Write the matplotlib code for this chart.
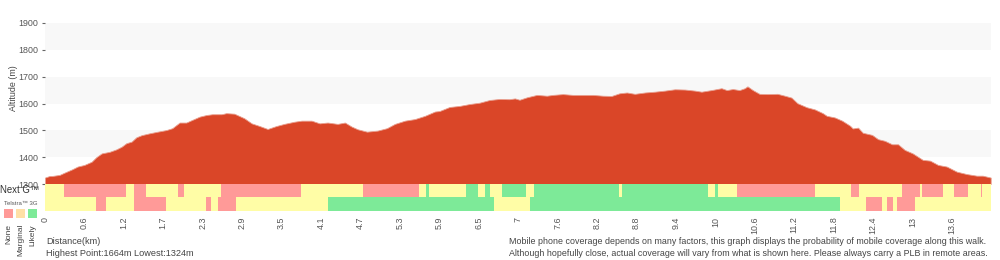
import matplotlib.pyplot as plt
from matplotlib.patches import Rectangle

plt.rcParams['font.family'] = ['Liberation Sans', 'DejaVu Sans']

# elevation profile: distance (km) and altitude (m)
dist = [0.00, 0.07, 0.11, 0.22, 0.29, 0.41, 0.49, 0.59, 0.70, 0.77,
        0.85, 0.97, 1.07, 1.15, 1.22, 1.30, 1.37, 1.45, 1.57, 1.69,
        1.82, 1.91, 2.02, 2.12, 2.21, 2.32, 2.42, 2.51, 2.65, 2.72,
        2.84, 2.99, 3.10, 3.22, 3.34, 3.47, 3.59, 3.74, 3.85, 4.00,
        4.12, 4.24, 4.39, 4.50, 4.60, 4.69, 4.83, 4.99, 5.13, 5.25,
        5.40, 5.55, 5.70, 5.85, 5.92, 6.07, 6.22, 6.37, 6.52, 6.67,
        6.82, 6.97, 7.05, 7.12, 7.23, 7.38, 7.53, 7.62, 7.77, 7.92,
        8.07, 8.22, 8.37, 8.50, 8.62, 8.73, 8.85, 9.00, 9.15, 9.30,
        9.45, 9.60, 9.75, 9.85, 10.00, 10.15, 10.23, 10.32, 10.42, 10.50,
        10.54, 10.62, 10.72, 10.84, 10.99, 11.10, 11.20, 11.29, 11.43, 11.55,
        11.67, 11.73, 11.85, 11.96, 12.08, 12.12, 12.20, 12.27, 12.41, 12.50,
        12.60, 12.71, 12.80, 12.90, 13.02, 13.17, 13.28, 13.40, 13.53, 13.68,
        13.83, 13.98, 14.07, 14.19]
elev = [1324, 1330, 1330, 1334, 1342, 1355, 1365, 1371, 1383, 1400,
        1414, 1420, 1429, 1439, 1452, 1458, 1474, 1482, 1489, 1495,
        1501, 1508, 1529, 1529, 1539, 1551, 1557, 1560, 1560, 1564,
        1562, 1545, 1526, 1516, 1505, 1516, 1524, 1532, 1536, 1536,
        1526, 1529, 1524, 1529, 1514, 1504, 1495, 1499, 1508, 1524,
        1536, 1542, 1554, 1570, 1572, 1587, 1591, 1598, 1603, 1613,
        1617, 1616, 1619, 1614, 1623, 1632, 1629, 1632, 1635, 1632,
        1632, 1632, 1629, 1628, 1638, 1641, 1636, 1641, 1644, 1648,
        1653, 1652, 1648, 1644, 1650, 1657, 1650, 1654, 1650, 1657,
        1664, 1650, 1636, 1635, 1636, 1629, 1622, 1601, 1586, 1578,
        1564, 1554, 1548, 1536, 1517, 1507, 1510, 1491, 1483, 1467,
        1461, 1448, 1448, 1427, 1414, 1390, 1387, 1371, 1365, 1346,
        1337, 1331, 1331, 1324]
total_km = 14.19

tick_labels = ['0', '0.6', '1.2', '1.7', '2.3', '2.9', '3.5', '4.1', '4.7', '5.3',
               '5.9', '6.5', '7', '7.6', '8.2', '8.8', '9.4', '10', '10.6', '11.2',
               '11.8', '12.4', '13', '13.6']
tick_step = 0.5917

# coverage: km where each segment starts, and its state
nextg_start = [0.00, 0.29, 1.22, 1.34, 1.52, 1.99, 2.09, 2.64, 3.84, 4.77,
               5.61, 5.72, 5.76, 6.32, 6.49, 6.60, 6.67, 6.86, 7.21, 7.33,
               8.62, 8.66, 9.95, 10.05, 10.10, 10.39, 11.55, 12.09, 12.21, 12.86,
               13.13, 13.16, 13.48, 13.64, 13.85, 14.04, 14.06]
nextg_state = ['marginal', 'none', 'marginal', 'none', 'marginal', 'none', 'marginal', 'none', 'marginal', 'none',
               'marginal', 'likely', 'marginal', 'likely', 'marginal', 'likely', 'marginal', 'likely', 'marginal', 'likely',
               'marginal', 'likely', 'marginal', 'likely', 'marginal', 'none', 'marginal', 'none', 'marginal', 'none',
               'marginal', 'none', 'marginal', 'none', 'marginal', 'none', 'marginal']
g3_start = [0.00, 0.76, 0.91, 1.34, 1.81, 2.42, 2.49, 2.59, 2.87, 4.24,
            6.73, 7.27, 11.93, 12.32, 12.56, 12.63, 12.73, 12.78, 13.05]
g3_state = ['marginal', 'none', 'marginal', 'none', 'marginal', 'none', 'marginal', 'none', 'marginal', 'likely',
            'marginal', 'likely', 'marginal', 'none', 'marginal', 'none', 'marginal', 'none', 'marginal']

cov_colors = {'none': '#FF9A98', 'marginal': '#FFFDA6', 'likely': '#7DEA98'}
legend_names = ['None', 'Marginal', 'Likely']
legend_colors = ['#FF9A98', '#FFE0A6', '#7DEA98']

W, H = 1000, 260
def fx(px):
    return px / W
def fy(py):
    return 1 - py / H

fig = plt.figure(figsize=(10, 2.6), dpi=100)

# altitude profile
ax = fig.add_axes([fx(45), fy(184), fx(990.7) - fx(45), (184 - 23) / H])
for lo in [1400, 1600, 1800]:
    ax.axhspan(lo, lo + 100, color='#F8F8F8', lw=0, zorder=0)
ax.fill_between(dist, elev, 1300, color='#DA4628', lw=0.6, edgecolor='#E9A090', zorder=2)
ax.set_xlim(0, total_km)
ax.set_ylim(1300, 1900)
ax.set_yticks(range(1300, 2000, 100))
ax.tick_params(axis='y', length=2, width=0.8, color='#666666', pad=3, labelsize=6.4, labelcolor='#555555')
ax.set_xticks([])
for s in ax.spines.values():
    s.set_visible(False)

# coverage strips
cax = fig.add_axes([fx(45), fy(211), fx(990.7) - fx(45), (211 - 184) / H])
for row, (starts, states) in enumerate([(g3_start, g3_state), (nextg_start, nextg_state)]):
    ends = starts[1:] + [total_km]
    widths = [e - s for s, e in zip(starts, ends)]
    cax.barh([row] * len(starts), widths, left=starts, height=1.0,
             color=[cov_colors[st] for st in states], lw=0)
cax.set_xlim(0, total_km)
cax.set_ylim(-0.5, 1.45)
cax.set_yticks([])
cax.set_xticks([i * tick_step for i in range(len(tick_labels))])
cax.set_xticklabels(tick_labels, rotation=90, fontsize=6.4, color='#555555')
cax.tick_params(axis='x', length=0, pad=4)
for s in cax.spines.values():
    s.set_visible(False)

fig.text(fx(13), fy(88), 'Altitude (m)', rotation=90, ha='center', va='center',
         fontsize=6.4, color='#444444')
fig.text(fx(0), fy(190), 'Next G™', ha='left', va='center', fontsize=6.9, color='#333333')
fig.text(fx(4), fy(203.5), 'Telstra™ 3G', ha='left', va='center', fontsize=4.3, color='#555555')
for i, (name, col) in enumerate(zip(legend_names, legend_colors)):
    x0 = 4 + i * 12
    fig.patches.append(Rectangle((fx(x0), fy(218)), 9 / W, 9 / H, transform=fig.transFigure,
                                 facecolor=col, edgecolor='none'))
    fig.text(fx(x0 + 4.5), fy(224), name, rotation=90, ha='center', va='top',
             fontsize=6.0, color='#444444')

fig.text(fx(46), fy(242), 'Distance(km)', ha='left', va='center', fontsize=6.6, color='#444444')
fig.text(fx(46), fy(253), 'Highest Point:1664m Lowest:1324m', ha='left', va='center',
         fontsize=6.6, color='#444444')
fig.text(fx(509), fy(242), 'Mobile phone coverage depends on many factors, this graph displays the '
         'probability of mobile coverage along this walk.', ha='left', va='center',
         fontsize=6.4, color='#444444')
fig.text(fx(509), fy(253), 'Although hopefully close, actual coverage will vary from what is shown here. '
         'Please always carry a PLB in remote areas.', ha='left', va='center',
         fontsize=6.4, color='#444444')

fig.savefig('out.png', dpi=100)
